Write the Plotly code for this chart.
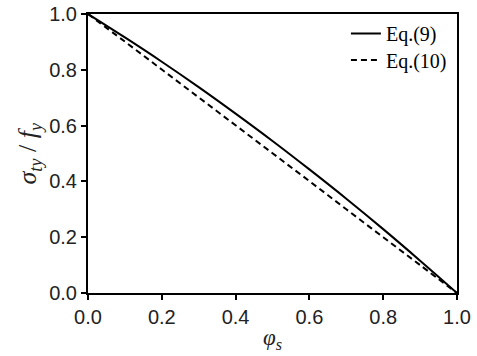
import plotly.graph_objects as go

phi = [0.0, 0.1, 0.2, 0.3, 0.4, 0.5, 0.6, 0.7, 0.8, 0.9, 1.0]
eq9 = [1.0, 0.916, 0.829, 0.738, 0.643, 0.545, 0.443, 0.338, 0.229, 0.116, 0.0]
eq10 = [1.0, 0.901, 0.801, 0.701, 0.601, 0.501, 0.401, 0.300, 0.200, 0.100, 0.0]
xticks = [0.0, 0.2, 0.4, 0.6, 0.8, 1.0]
yticks = [0.0, 0.2, 0.4, 0.6, 0.8, 1.0]

SANS = "Liberation Sans"
SERIF = "Liberation Serif"

fig = go.Figure()
fig.add_trace(go.Scatter(x=phi, y=eq9, mode="lines", name="Eq.(9)",
                         line=dict(color="black", width=2, shape="spline"),
                         legend="legend"))
fig.add_trace(go.Scatter(x=phi, y=eq10, mode="lines", name="Eq.(10)",
                         line=dict(color="black", width=2, dash="6px,4px", shape="spline"),
                         legend="legend2"))

axis_common = dict(range=[0, 1], showgrid=False, zeroline=False, showline=True,
                   linecolor="black", linewidth=2, mirror=True, ticks="outside",
                   ticklen=5, tickwidth=2, tickcolor="black", tickformat=".1f",
                   automargin=False,
                   tickfont=dict(family=SANS, size=20, color="#222"))

fig.update_layout(
    width=477, height=356,
    margin=dict(l=88, r=20, t=14, b=63),
    paper_bgcolor="white", plot_bgcolor="white",
    xaxis=dict(**axis_common, tickvals=xticks),
    yaxis=dict(**axis_common, tickvals=yticks),
    showlegend=True,
    legend=dict(x=0.699, y=1.0, xanchor="left", yanchor="top",
                bgcolor="rgba(0,0,0,0)",
                font=dict(family=SERIF, size=20, color="black")),
    legend2=dict(x=0.699, y=0.905, xanchor="left", yanchor="top",
                 bgcolor="rgba(0,0,0,0)",
                 font=dict(family=SERIF, size=20, color="black")),
    annotations=[
        dict(text="<i>σ</i><sub><i>ty</i></sub> / <i>f</i><sub><i>y</i></sub>",
             xref="paper", yref="paper", x=-0.16, y=0.5, xanchor="center", yanchor="middle",
             textangle=-90, showarrow=False,
             font=dict(family=SERIF, size=26, color="#222")),
        dict(text="<i>φ</i><sub><i>s</i></sub>",
             xref="paper", yref="paper", x=0.5, y=-0.165, xanchor="center", yanchor="middle",
             showarrow=False,
             font=dict(family=SERIF, size=23, color="#222")),
    ],
)

fig.write_html("out.html", config={"displayModeBar": False},
               post_script="document.body.style.margin='0px';")
